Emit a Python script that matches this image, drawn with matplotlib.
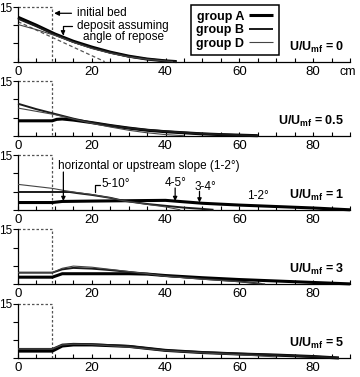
import matplotlib
matplotlib.use('Agg')
import matplotlib.pyplot as plt
from matplotlib.ticker import MultipleLocator

plt.rcParams['font.family'] = ['Liberation Sans', 'DejaVu Sans']
plt.rcParams['mathtext.fontset'] = 'custom'
plt.rcParams['mathtext.rm'] = 'Liberation Sans'
plt.rcParams['mathtext.bf'] = 'Liberation Sans:bold'
plt.rcParams['mathtext.it'] = 'Liberation Sans:italic'

# ---- data (x in cm, height in cm) ----
velocity_ratios = ['0', '0.5', '1', '3', '5']
groups = ['group A', 'group B', 'group D']

bed_length = 9.3
bed_height = 15

# U/Umf = 0
p0_A_x = [0, 5, 10, 15, 20, 25, 30, 35, 40, 43]
p0_A_y = [12.2, 10.0, 7.6, 5.6, 4.0, 2.6, 1.5, 0.7, 0.2, 0.0]
p0_B_x = [0, 5, 10, 15, 20, 25, 30, 35, 40, 43]
p0_B_y = [11.8, 9.7, 7.4, 5.4, 3.8, 2.5, 1.4, 0.7, 0.2, 0.0]
p0_D_x = [0, 5, 10, 15, 20, 25, 30, 35, 40, 42]
p0_D_y = [10.2, 8.8, 7.2, 5.3, 3.6, 2.3, 1.3, 0.6, 0.15, 0.0]
repose_x = [0, 23.5]
repose_y = [11.0, 0.0]

# U/Umf = 0.5
p1_A_x = [0, 9.3, 10.5, 12, 15, 20, 25, 30, 35, 40, 45, 50, 55, 60, 65]
p1_A_y = [4.1, 4.1, 4.5, 4.6, 4.3, 3.6, 2.8, 2.1, 1.5, 1.1, 0.8, 0.5, 0.3, 0.15, 0.0]
p1_B_x = [0, 5, 10, 15, 20, 25, 30, 35, 40, 45, 50, 55, 60, 65]
p1_B_y = [8.8, 7.3, 6.0, 4.7, 3.6, 2.8, 2.1, 1.6, 1.2, 0.85, 0.55, 0.35, 0.15, 0.0]
p1_D_x = [0, 5, 10, 15, 20, 25, 30, 35, 40, 45]
p1_D_y = [7.6, 6.7, 5.8, 4.6, 3.4, 2.4, 1.5, 0.8, 0.3, 0.0]

# U/Umf = 1
p2_A_x = [0, 9.3, 12, 20, 30, 40, 45, 50, 60, 70, 80, 90]
p2_A_y = [2.0, 2.0, 2.3, 2.4, 2.5, 2.6, 2.2, 1.8, 1.3, 0.9, 0.5, 0.0]
p2_B_x = [0, 14, 16, 20, 25, 28.5, 35, 40, 45, 50, 53]
p2_B_y = [4.9, 4.9, 4.6, 4.1, 3.3, 2.5, 1.6, 1.1, 0.6, 0.25, 0.0]
p2_D_x = [0, 9.3, 12, 15, 20, 25, 28.5, 35, 40, 44]
p2_D_y = [7.0, 5.9, 5.4, 4.9, 4.2, 3.3, 2.5, 1.5, 0.8, 0.0]

# U/Umf = 3
p3_A_x = [0, 9.3, 12, 20, 30, 35, 40, 50, 60, 70, 80, 90]
p3_A_y = [1.85, 1.85, 2.8, 2.8, 2.8, 2.7, 2.3, 1.7, 1.2, 0.8, 0.4, 0.0]
p3_B_x = [0, 9.3, 12, 15, 20, 25, 30, 35, 40, 50, 60, 66]
p3_B_y = [3.1, 3.1, 4.0, 4.4, 4.2, 3.8, 3.3, 2.8, 2.2, 1.4, 0.7, 0.0]
p3_D_x = [0, 9.3, 12, 15, 20, 25, 30, 35, 40, 50, 60, 67]
p3_D_y = [3.1, 3.1, 4.3, 4.9, 4.6, 4.0, 3.4, 2.8, 2.1, 1.3, 0.6, 0.0]

# U/Umf = 5
p4_A_x = [0, 9.3, 12, 15, 20, 30, 40, 50, 60, 70, 80, 87]
p4_A_y = [1.9, 1.9, 3.3, 3.6, 3.6, 3.2, 2.1, 1.5, 1.1, 0.8, 0.4, 0.0]
p4_B_x = [0, 9.3, 12, 15, 20, 30, 40, 50, 60, 70, 80, 87]
p4_B_y = [2.5, 2.5, 3.7, 3.9, 3.8, 3.3, 2.1, 1.6, 1.2, 0.8, 0.4, 0.05]
p4_D_x = [0, 9.3, 12, 15, 20, 30, 40, 50, 60, 70]
p4_D_y = [2.5, 2.5, 3.6, 3.8, 3.7, 3.0, 2.0, 1.4, 0.9, 0.3]

panels = [
    [(p0_A_x, p0_A_y), (p0_B_x, p0_B_y), (p0_D_x, p0_D_y)],
    [(p1_A_x, p1_A_y), (p1_B_x, p1_B_y), (p1_D_x, p1_D_y)],
    [(p2_A_x, p2_A_y), (p2_B_x, p2_B_y), (p2_D_x, p2_D_y)],
    [(p3_A_x, p3_A_y), (p3_B_x, p3_B_y), (p3_D_x, p3_D_y)],
    [(p4_A_x, p4_A_y), (p4_B_x, p4_B_y), (p4_D_x, p4_D_y)],
]

# line styles per group: thick, medium, thin
widths = [2.2, 1.4, 0.8]
colors = ['black', '#1a1a1a', '#444444']

W, H = 360, 377
fig = plt.figure(figsize=(W / 100, H / 100), dpi=100)

left_px, right_px = 18, 350
height_px = 54.5
bottoms_px = [61.6, 135.7, 209.8, 283.9, 358.0]

axes = []
for i, bottom in enumerate(bottoms_px):
    ax = fig.add_axes([left_px / W, 1 - bottom / H,
                       (right_px - left_px) / W, height_px / H])
    axes.append(ax)

    # initial bed outline
    ax.plot([0, bed_length, bed_length], [bed_height, bed_height, 0],
            color='#555555', lw=0.9, ls=(0, (2, 1.6)), clip_on=False, zorder=1)

    handles = []
    for (x, y), lw, c, name in zip(panels[i], widths, colors, groups):
        h, = ax.plot(x, y, color=c, lw=lw, solid_capstyle='butt', clip_on=False, zorder=3)
        handles.append(h)

    ax.set_xlim(0, 90)
    ax.set_ylim(0, 15)
    for s in ['top', 'right']:
        ax.spines[s].set_visible(False)
    ax.spines['left'].set_linewidth(0.9)
    ax.spines['bottom'].set_linewidth(0.9)

    ax.xaxis.set_major_locator(MultipleLocator(20))
    ax.xaxis.set_minor_locator(MultipleLocator(5))
    ax.tick_params(axis='x', which='both', direction='in', length=3, width=0.8,
                   labelsize=9.5, pad=3)
    ax.set_yticks([0, 5, 10, 15])
    ax.set_yticklabels(['', '', '', '15'])
    ax.tick_params(axis='y', direction='out', length=3.5, width=0.8,
                   labelsize=8.5, pad=0.3)
    ax.patch.set_alpha(0)

    ax.text(88.5, 4.0, r'$\mathbf{U/U_{mf}}$ = ' + velocity_ratios[i],
            ha='right', va='center', fontsize=9, fontweight='bold')

    if i == 0:
        ax.plot(repose_x, repose_y, color='#555555', lw=0.9,
                ls=(0, (3, 2)), zorder=2)
        leg = ax.legend(handles, groups, loc='upper left',
                        bbox_to_anchor=(190.7 / W, 1 - 5 / H),
                        bbox_transform=fig.transFigure, borderaxespad=0,
                        markerfirst=False, frameon=True, fancybox=False,
                        framealpha=1, edgecolor='black',
                        prop={'weight': 'bold', 'size': 9},
                        handlelength=1.9, handletextpad=0.4,
                        labelspacing=0.12, borderpad=0.45)
        leg.get_frame().set_linewidth(1.1)

        ax.text(89.3, -1.3, 'cm', ha='center', va='top', fontsize=9,
                clip_on=False)

        ax.annotate('initial bed', xy=(9.8, 13.3), xytext=(16.0, 13.3),
                    ha='left', va='center', fontsize=8.5,
                    arrowprops=dict(arrowstyle='-|>', color='black', lw=0.9,
                                    mutation_scale=7, shrinkA=2, shrinkB=0))
        ax.text(28.5, 8.3, 'deposit assuming\nangle of repose', ha='center',
                va='center', fontsize=8.5, linespacing=0.95)
        ax.annotate('', xy=(12.2, 7.2), xytext=(14.6, 9.7),
                    arrowprops=dict(arrowstyle='-|>', color='black', lw=0.9,
                                    mutation_scale=6, shrinkA=0, shrinkB=0,
                                    connectionstyle='angle,angleA=0,angleB=90,rad=0'))

    if i == 2:
        ax.text(10.9, 12.0, 'horizontal or upstream slope (1-2°)', ha='left',
                va='center', fontsize=8.5)
        ax.annotate('', xy=(12.3, 2.4), xytext=(12.3, 10.4),
                    arrowprops=dict(arrowstyle='-|>', color='black', lw=0.9,
                                    mutation_scale=6, shrinkA=0, shrinkB=0))
        ax.text(22.6, 7.0, '5-10°', ha='left', va='center', fontsize=8.5)
        ax.annotate('', xy=(21.0, 4.9), xytext=(22.3, 6.9),
                    arrowprops=dict(arrowstyle='-', color='black', lw=0.9,
                                    shrinkA=0, shrinkB=0,
                                    connectionstyle='angle,angleA=0,angleB=90,rad=0'))
        ax.text(42.6, 7.3, '4-5°', ha='center', va='center', fontsize=8.5)
        ax.annotate('', xy=(42.6, 2.4), xytext=(42.6, 6.0),
                    arrowprops=dict(arrowstyle='-|>', color='black', lw=0.9,
                                    mutation_scale=6, shrinkA=0, shrinkB=0))
        ax.text(50.7, 6.3, '3-4°', ha='center', va='center', fontsize=8.5)
        ax.annotate('', xy=(49.2, 2.0), xytext=(49.2, 5.1),
                    arrowprops=dict(arrowstyle='-|>', color='black', lw=0.9,
                                    mutation_scale=6, shrinkA=0, shrinkB=0))
        ax.text(65.0, 3.8, '1-2°', ha='center', va='center', fontsize=8.5)

fig.savefig('out.png', dpi=100)
